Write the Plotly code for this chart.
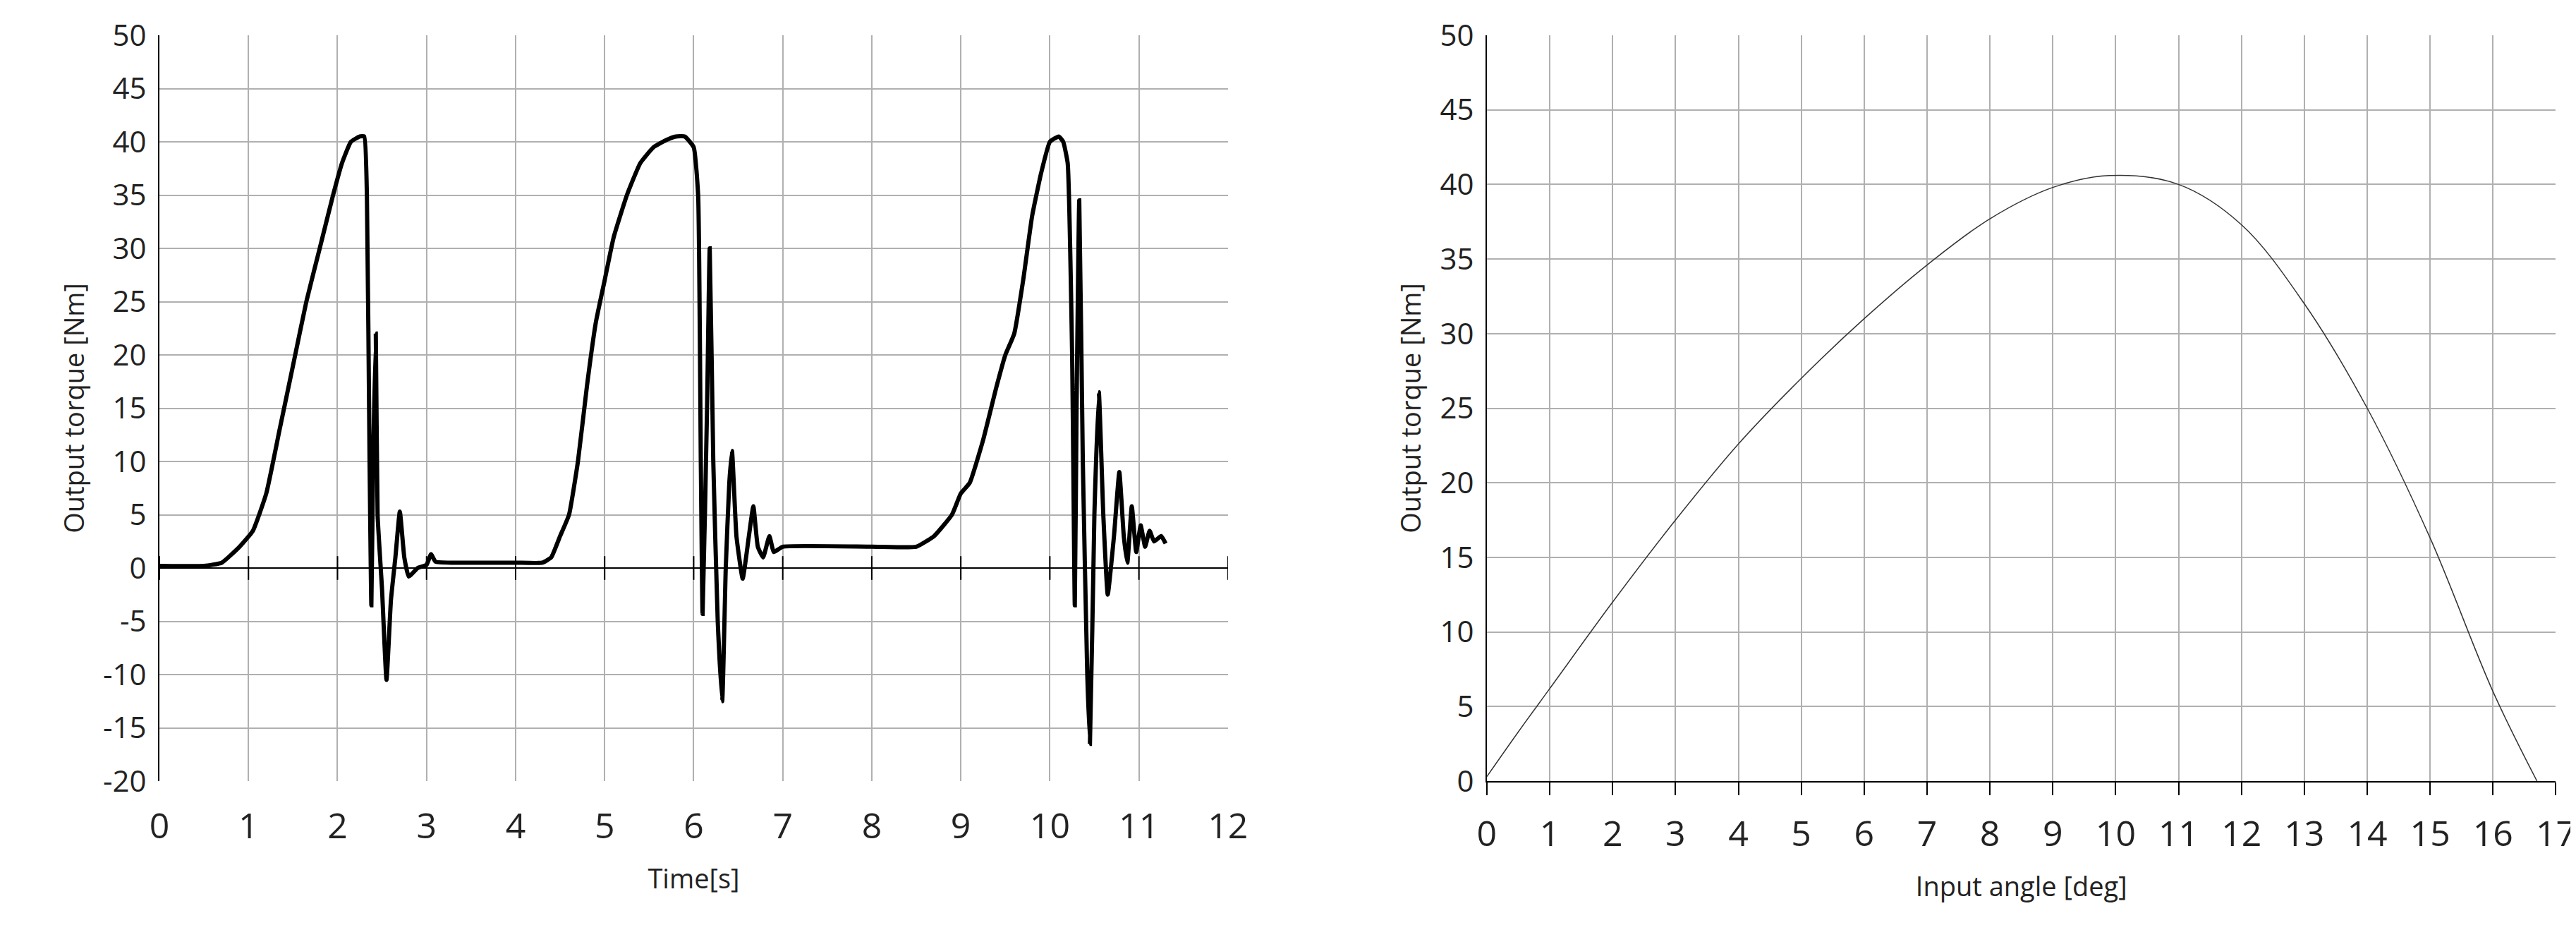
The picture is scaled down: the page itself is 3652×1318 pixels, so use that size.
import plotly.graph_objects as go
from plotly.subplots import make_subplots

time_s = [0, 0.5, 0.7, 0.9, 1.05, 1.2, 1.35, 1.5, 1.65, 1.8, 1.95, 2.05, 2.15, 2.25, 2.3,
          2.33, 2.36, 2.38, 2.40, 2.43, 2.45, 2.5, 2.55, 2.6, 2.65, 2.7, 2.75, 2.8, 2.9,
          3.0, 3.05, 3.1, 3.3, 4.0, 4.3, 4.4, 4.5, 4.6, 4.7, 4.8, 4.9, 5.0, 5.1, 5.25, 5.4,
          5.55, 5.7, 5.8, 5.9, 6.0, 6.05, 6.08, 6.1, 6.15, 6.18, 6.22, 6.27, 6.32, 6.36,
          6.4, 6.43, 6.48, 6.55, 6.62, 6.67, 6.72, 6.78, 6.85, 6.9, 7.0, 8.0, 8.5, 8.7,
          8.9, 9.0, 9.1, 9.25, 9.4, 9.5, 9.6, 9.7, 9.8, 9.9, 10.0, 10.1, 10.15, 10.2,
          10.25, 10.28, 10.3, 10.33, 10.37, 10.42, 10.45, 10.5, 10.55, 10.6, 10.65,
          10.72, 10.78, 10.83, 10.87, 10.92, 10.97, 11.02, 11.07, 11.12, 11.17, 11.25, 11.3]
torque_t = [0.2, 0.2, 0.5, 2, 3.5, 7, 13, 19, 25, 30, 35, 38, 40, 40.5, 40.5,
            35, 10, -3.5, 10, 22, 5, -2, -10.5, -3, 1, 5.3, 1, -0.8, 0,
            0.3, 1.3, 0.6, 0.5, 0.5, 0.5, 1, 3, 5, 10, 17, 23, 27, 31, 35, 38,
            39.5, 40.2, 40.5, 40.5, 39.5, 35, 10, -4.3, 15, 30, 10, -5, -12.5, 0,
            8, 11, 3, -1, 3, 5.8, 2, 1, 3, 1.5, 2, 2, 2, 3,
            5, 7, 8, 12, 17, 20, 22, 27, 33, 37, 40, 40.5, 40, 38,
            20, -3.5, 15, 34.5, 10, -10, -16.5, 5, 16.5, 5, -2.5,
            3, 9, 3, 0.5, 5.8, 1.5, 4, 2, 3.5, 2.5, 3, 2.3]

angle_deg = [0, 0.5, 1, 2, 3, 4, 5, 6, 7, 8, 9, 9.9, 11, 12, 13, 14, 15, 16, 16.7]
torque_a = [0.3, 3.3, 6.2, 12, 17.5, 22.6, 27, 31, 34.6, 37.7, 39.8, 40.6, 40, 37.3,
            32, 25, 16.3, 6, 0]

left_yticks = list(range(-20, 55, 5))
right_yticks = list(range(0, 55, 5))

FONT = "Open Sans"
GRID = "#b0b0b0"

fig = make_subplots(rows=1, cols=2)
fig.add_trace(go.Scatter(x=time_s, y=torque_t, mode="lines", line_shape="spline",
                         line={"color": "black", "width": 6, "smoothing": 0.4},
                         showlegend=False), 1, 1)
fig.add_trace(go.Scatter(x=angle_deg, y=torque_a, mode="lines", line_shape="spline",
                         line={"color": "#333333", "width": 1.5}, showlegend=False), 1, 2)

# tick marks crossing the zero line on the left chart
fig.add_trace(go.Scatter(x=list(range(0, 13)), y=[0] * 13, mode="markers",
                         marker={"symbol": "line-ns", "size": 24,
                                 "line": {"color": "black", "width": 2}},
                         showlegend=False, hoverinfo="skip"), 1, 1)

ytick_font = {"family": FONT, "size": 42, "color": "#222"}
xtick_font = {"family": FONT, "size": 50, "color": "#222"}
title_font = {"family": FONT, "size": 38, "color": "#222"}
common = dict(showgrid=True, gridcolor=GRID, gridwidth=1.5, automargin=False,
              title_font=title_font)

fig.update_xaxes(domain=[0.0597, 0.4745], range=[0, 12], dtick=1, title_text="Time[s]",
                 zeroline=False, ticks="", tickfont=xtick_font, ticklabelstandoff=30,
                 title_standoff=30, row=1, col=1, **common)
fig.update_yaxes(range=[-20, 50], tickvals=left_yticks,
                 ticktext=[str(v).replace("\u2212", "-") for v in left_yticks],
                 title_text="Output torque [Nm]", zeroline=True, zerolinecolor="black",
                 zerolinewidth=2, showline=True, linecolor="black", linewidth=2,
                 tickfont=ytick_font, ticklabelstandoff=8, title_standoff=15,
                 row=1, col=1, **common)
fig.update_xaxes(domain=[0.575, 0.990], range=[0, 17], dtick=1,
                 title_text="Input angle [deg]", zeroline=False, showline=True,
                 linecolor="black", linewidth=2, ticks="outside", ticklen=18,
                 tickcolor="black", tickwidth=2, tickfont=xtick_font, ticklabelstandoff=12,
                 title_standoff=30, row=1, col=2, **common)
fig.update_yaxes(range=[0, 50], tickvals=right_yticks, ticktext=[str(v) for v in right_yticks],
                 title_text="Output torque [Nm]", zeroline=False, showline=True,
                 linecolor="black", linewidth=2, tickfont=ytick_font, ticklabelstandoff=8,
                 title_standoff=15, row=1, col=2, **common)

fig.update_layout(width=3652, height=1318, plot_bgcolor="white", paper_bgcolor="white",
                  margin={"l": 0, "r": 0, "t": 42, "b": 219})

fig.write_html("out.html")
